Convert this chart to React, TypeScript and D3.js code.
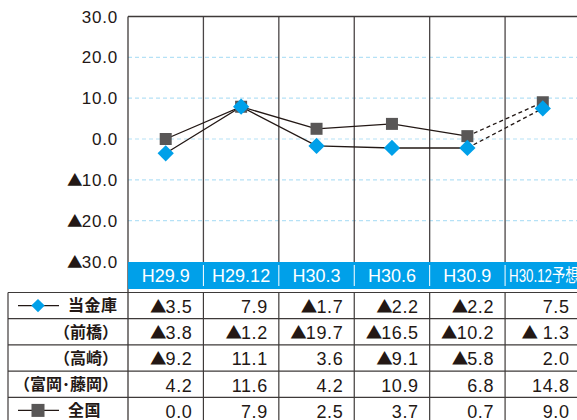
import * as d3 from 'd3';

// chart values
const categories = ['H29.9', 'H29.12', 'H30.3', 'H30.6', 'H30.9', 'H30.12予想'];
const shinkinValues = [-3.5, 7.9, -1.7, -2.2, -2.2, 7.5];
const nationalValues = [0.0, 7.9, 2.5, 3.7, 0.7, 9.0];
const maebashiRow = ['▲3.8', '▲1.2', '▲19.7', '▲16.5', '▲10.2', '▲ 1.3'];
const takasakiRow = ['▲9.2', '11.1', '3.6', '▲9.1', '▲5.8', '2.0'];
const tomiokaRow = ['4.2', '11.6', '4.2', '10.9', '6.8', '14.8'];
const yTicks = [30, 20, 10, 0, -10, -20, -30];

const W = 577;
const H = 420;
const BLUE = '#00a0e9';
const INK = '#231815';
const GRAY_SQ = '#595757';
const NUM_FONT = '"Liberation Sans", Arial, sans-serif';
const JP_FONT = '"Noto Sans CJK JP", sans-serif';

const fmt = (v: number) => (v < 0 ? '▲' + Math.abs(v).toFixed(1) : v.toFixed(1));

// the triangle mark comes from the JP font so it is as tall as the digits
const withTri = (s: string) => {
  if (!s.startsWith('▲')) return s;
  return (
    <>
      <tspan fontFamily={JP_FONT} fontSize="0.92em" letterSpacing={-1}>▲</tspan>
      {s.slice(1)}
    </>
  );
};

export default function App() {
  const x = d3.scaleBand<string>().domain(categories).range([128, 580.5]);
  const y = d3.scaleLinear().domain([-30, 30]).range([261.5, 16.5]);
  const cx = (c: string) => (x(c) ?? 0) + x.bandwidth() / 2;

  const line = d3.line<[number, number]>();
  const pts = (vals: number[]) => vals.map((v, i) => [cx(categories[i]), y(v)] as [number, number]);
  const shinkinPts = pts(shinkinValues);
  const nationalPts = pts(nationalValues);
  const n = categories.length;

  // table layout
  const bandTop = 262;
  const bandBottom = 289;
  const tableTop = 292.5;
  const rowH = 26.2;
  const rows = [
    { label: '当金庫', legend: 'diamond', values: shinkinValues.map(fmt) },
    { label: '（前橋）', values: maebashiRow },
    { label: '（高崎）', values: takasakiRow },
    { label: '（富岡･藤岡）', values: tomiokaRow },
    { label: '全国', legend: 'square', values: nationalValues.map(fmt) },
  ];

  const diamond = (px: number, py: number, side: number, key: string) => (
    <rect
      key={key}
      x={-side / 2}
      y={-side / 2}
      width={side}
      height={side}
      fill={BLUE}
      transform={`translate(${px},${py}) rotate(45)`}
    />
  );
  const square = (px: number, py: number, side: number, key: string) => (
    <rect key={key} x={px - side / 2} y={py - side / 2} width={side} height={side} fill={GRAY_SQ} />
  );

  return (
    <svg width={W} height={H} style={{ position: 'absolute', left: 0, top: 0, background: '#fff' }}>
      {/* grid */}
      {yTicks.filter(t => t !== 30 && t !== -30).map(t => (
        <line key={t} x1={128} x2={W} y1={y(t)} y2={y(t)} stroke="#b5e1f6" strokeWidth={1.2} strokeDasharray="4 3" />
      ))}
      {/* column separators in plot */}
      {categories.slice(1).map(c => (
        <line key={c} x1={x(c)} x2={x(c)} y1={y(30)} y2={bandTop} stroke="#4a4546" strokeWidth={1.3} />
      ))}
      <line x1={128} x2={W} y1={y(30)} y2={y(30)} stroke="#3e3a39" strokeWidth={1.3} />
      <line x1={128} x2={128} y1={y(30)} y2={H} stroke="#3e3a39" strokeWidth={1.3} />

      {/* y labels */}
      {yTicks.map(t => (
        <text key={t} x={118} y={y(t)} dy="0.36em" textAnchor="end" fontFamily={NUM_FONT} fontSize={17}
          letterSpacing={0.8} fill={INK}>
          {withTri(fmt(t))}
        </text>
      ))}

      {/* lines */}
      {[shinkinPts, nationalPts].map((p, i) => (
        <g key={i} fill="none" stroke={INK} strokeWidth={1.3}>
          <path d={line(p.slice(0, n - 1)) ?? ''} />
          <path d={line(p.slice(n - 2)) ?? ''} strokeDasharray="4 3" />
        </g>
      ))}
      {nationalPts.map((p, i) => square(p[0], p[1], 12, 'n' + i))}
      {shinkinPts.map((p, i) => diamond(p[0], p[1], 11.5, 's' + i))}

      {/* header band */}
      <rect x={128} y={bandTop} width={W - 128} height={bandBottom - bandTop} fill={BLUE} />
      {categories.slice(1).map(c => (
        <line key={c} x1={x(c)} x2={x(c)} y1={bandTop + 3} y2={bandBottom - 3} stroke="#fff" strokeWidth={1} />
      ))}
      {categories.map((c, i) =>
        i < n - 1 ? (
          <text key={c} x={cx(c)} y={(bandTop + bandBottom) / 2} dy="0.36em" textAnchor="middle"
            fontFamily={NUM_FONT} fontSize={18} fill="#fff">
            {c}
          </text>
        ) : (
          <g key={c} transform={`translate(${(x(c) ?? 0) + 4},${(bandTop + bandBottom) / 2}) scale(0.74,1)`}>
            <text dy="0.36em" fontFamily={NUM_FONT} fontSize={18} fill="#fff">
              H30.12<tspan fontFamily={JP_FONT}>予想</tspan>
            </text>
          </g>
        )
      )}

      {/* table */}
      {rows.map((r, i) => {
        const top = tableTop + i * rowH;
        const mid = top + rowH / 2;
        return (
          <g key={r.label}>
            <line x1={8} x2={W} y1={top} y2={top} stroke="#3e3a39" strokeWidth={1.2} />
            {r.legend && (
              <g>
                <line x1={18} x2={59} y1={mid} y2={mid} stroke={INK} strokeWidth={1.3} />
                {r.legend === 'diamond' ? diamond(38, mid, 9.5, 'ld') : square(38, mid, 13, 'ls')}
              </g>
            )}
            <text x={r.legend ? 68 : 118} y={mid} dy="0.36em" textAnchor={r.legend ? 'start' : 'end'}
              fontFamily={JP_FONT} fontWeight={700} fontSize={16} fill={INK}
              letterSpacing={r.legend ? 0.5 : 0}>
              {r.label}
            </text>
            {r.values.map((v, j) => (
              <text key={j} x={(x(categories[j]) ?? 0) + x.bandwidth() - 11} y={mid + 1} dy="0.36em"
                textAnchor="end" fontFamily={NUM_FONT} fontSize={18} letterSpacing={0.6} fill={INK}
                style={{ whiteSpace: 'pre' }}>
                {withTri(v)}
              </text>
            ))}
          </g>
        );
      })}
      <line x1={8} x2={8} y1={tableTop} y2={H} stroke="#3e3a39" strokeWidth={1.2} />
      {categories.slice(1).map(c => (
        <line key={c} x1={x(c)} x2={x(c)} y1={tableTop} y2={H} stroke="#3e3a39" strokeWidth={1.2} />
      ))}
    </svg>
  );
}
